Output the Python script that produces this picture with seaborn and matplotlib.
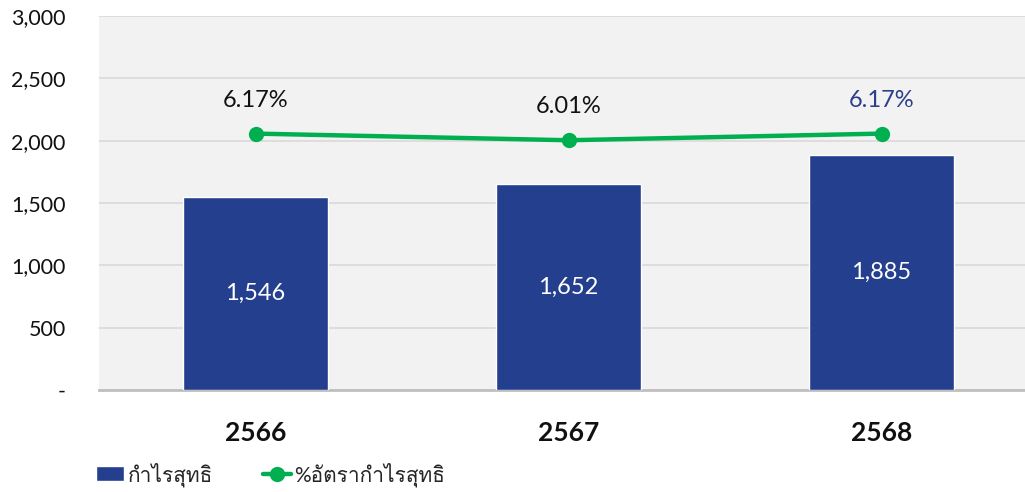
import matplotlib
matplotlib.use("Agg")
import matplotlib.pyplot as plt
from matplotlib import font_manager
import numpy as np
import pandas as pd
import seaborn as sns

years = ["2566", "2567", "2568"]
net_profit = [1546, 1652, 1885]
margin_pct = [6.17, 6.01, 6.17]
y_ticks = [0, 500, 1000, 1500, 2000, 2500, 3000]
y_tick_labels = ["-", "500", "1,000", "1,500", "2,000", "2,500", "3,000"]
bar_label_name = "กำไรสุทธิ"
line_label_name = "%อัตรากำไรสุทธิ"
pct_label_colors = ["#111111", "#111111", "#2B3F8C"]

BAR_COLOR = "#233F8E"
LINE_COLOR = "#00B050"

# find a font with Thai glyphs
thai_font = None
try:
    from fontTools.ttLib import TTFont
    for f in sorted(font_manager.findSystemFonts()):
        try:
            tt = TTFont(f, fontNumber=0, lazy=True)
            cmap = tt.getBestCmap()
            if cmap and 0x0E01 in cmap and 0x0E33 in cmap:
                thai_font = font_manager.FontProperties(fname=f).get_name()
                break
        except Exception:
            continue
except Exception:
    pass

sns.set_theme(style="white")
base = "Lato"
fam = [base] + ([thai_font] if thai_font else []) + ["DejaVu Sans"]
plt.rcParams["font.family"] = fam

fig = plt.figure(figsize=(10.25, 4.92), dpi=100)
ax = fig.add_axes([99 / 1025, 1 - 390 / 492, (1038 - 99) / 1025, (390 - 16) / 492])
ax.set_facecolor("#F2F2F2")

df = pd.DataFrame({"year": years, "profit": net_profit})
sns.barplot(data=df, x="year", y="profit", color=BAR_COLOR, width=0.463,
            saturation=1, ax=ax, label=bar_label_name, zorder=3)
if ax.get_legend():
    ax.get_legend().remove()
ax.set_ylim(0, 3000)
ax.set_xlim(-0.5, 2.5)
ax.set_yticks(y_ticks)
ax.set_yticklabels(y_tick_labels, fontsize=15.5, color="#111111")
ax.yaxis.grid(True, color="#D9D9D9", linewidth=1.2, zorder=0)
ax.set_axisbelow(True)
for s in ["top", "right", "left"]:
    ax.spines[s].set_visible(False)
ax.spines["bottom"].set_color("#BFBFBF")
ax.spines["bottom"].set_linewidth(2)
ax.tick_params(axis="y", length=0, pad=24)
ax.tick_params(axis="x", length=0, pad=22, labelsize=19, labelcolor="#111111")
for t in ax.get_xticklabels():
    t.set_fontweight("bold")
ax.set_xlabel("")
ax.set_ylabel("")

for c in ax.containers:
    ax.bar_label(c, labels=[f"{v:,}" for v in net_profit], label_type="center",
                 color="white", fontsize=17)

ax2 = ax.twinx()
pos = np.arange(len(years))
sns.lineplot(x=pos, y=margin_pct, ax=ax2, color=LINE_COLOR, linewidth=3.2,
             marker="o", markersize=11, markeredgewidth=0, label=line_label_name,
             zorder=4)
ax2.set_ylim(0, 9)
ax2.set_yticks([])
for s in ax2.spines.values():
    s.set_visible(False)
ax2.set_ylabel("")
if ax2.get_legend():
    ax2.get_legend().remove()

for i, v in enumerate(margin_pct):
    ax2.annotate(f"{v:.2f}%", (pos[i], v), xytext=(0, 24), textcoords="offset points",
                 ha="center", va="center", fontsize=17, color=pct_label_colors[i])

h1, l1 = ax.get_legend_handles_labels()
h2, l2 = ax2.get_legend_handles_labels()
fig.legend(h1 + h2, l1 + l2, loc="center left", bbox_to_anchor=(0.094, 0.036),
           ncol=2, frameon=False, fontsize=15, handlelength=1.35, handleheight=0.7,
           columnspacing=2.4, handletextpad=0.15, borderaxespad=0, borderpad=0)

fig.savefig("out.png", dpi=100)
